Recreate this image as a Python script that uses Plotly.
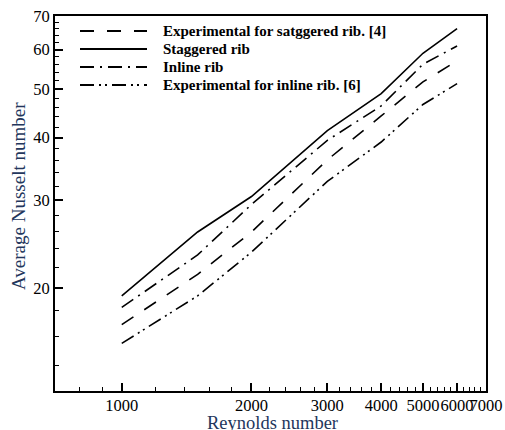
import numpy as np
import plotly.graph_objects as go

# Reynolds numbers and average Nusselt numbers for each case
reynolds = [1000, 1500, 2000, 3000, 4000, 5000, 6000]
nu_exp_staggered = [16.9, 21.3, 25.9, 36.1, 44.2, 51.7, 57.0]
nu_staggered = [19.3, 25.9, 30.5, 41.3, 49.0, 59.0, 66.1]
nu_inline = [18.3, 23.3, 29.4, 39.5, 46.3, 56.1, 61.0]
nu_exp_inline = [15.5, 19.3, 23.6, 32.7, 39.2, 46.6, 51.3]

series_names = [
    "Experimental for satggered rib. [4]",
    "Staggered rib",
    "Inline rib",
    "Experimental for inline rib. [6]",
]
series_values = [nu_exp_staggered, nu_staggered, nu_inline, nu_exp_inline]
dash_styles = ["14px,13px", "solid", "14px,6px,2px,6px", "14px,5px,2px,4px,2px,5px"]

x_major = [1000, 2000, 3000, 4000, 5000, 6000, 7000]
x_minor = [800, 900] + [v for v in range(1200, 7000, 200) if v % 1000 != 0]
y_major = [20, 30, 40, 50, 60, 70]
y_minor = [v for v in range(14, 70, 2) if v % 10 != 0]

W, H = 505, 430
ML, MR, MT, MB = 55, 19, 16, 39
PW, PH = W - ML - MR, H - MT - MB

FONT = "Liberation Serif, Times New Roman, serif"
TITLE_COLOR = "#23365c"


def px_x(p):
    return (p - ML) / PW


def px_y(p):
    return (H - MB - p) / PH


fig = go.Figure()
for name, vals, dash in zip(series_names, series_values, dash_styles):
    fig.add_trace(go.Scatter(
        x=reynolds, y=vals, mode="lines", name=name, showlegend=False,
        line=dict(color="black", width=1.6, dash=dash),
    ))

# hand-built legend in the upper left of the plot area
shapes = []
annotations = []
row_y = [31, 49, 67, 85]
for name, dash, ry in zip(series_names, dash_styles, row_y):
    shapes.append(dict(
        type="line", xref="paper", yref="paper",
        x0=px_x(80), x1=px_x(147), y0=px_y(ry), y1=px_y(ry),
        line=dict(color="black", width=1.8, dash=dash),
    ))
    annotations.append(dict(
        xref="paper", yref="paper", x=px_x(161), y=px_y(ry),
        xanchor="left", yanchor="middle", showarrow=False,
        text="<b>" + name + "</b>",
        font=dict(family=FONT, size=15, color="black"),
    ))

# axis titles
annotations.append(dict(
    xref="paper", yref="paper", x=px_x(272), y=px_y(423),
    xanchor="center", yanchor="middle", showarrow=False,
    text="Reynolds number", font=dict(family=FONT, size=18.5, color=TITLE_COLOR),
))
annotations.append(dict(
    xref="paper", yref="paper", x=px_x(18), y=px_y(196),
    xanchor="center", yanchor="middle", showarrow=False, textangle=-90,
    text="Average Nusselt number", font=dict(family=FONT, size=19, color=TITLE_COLOR),
))

axis_common = dict(
    type="log", showgrid=False, zeroline=False,
    showline=True, linecolor="black", linewidth=2, mirror=True,
    ticks="inside", ticklen=8, tickwidth=2, tickcolor="black",
    tickangle=0,
    tickfont=dict(family=FONT, size=16.5, color="black"),
)

fig.update_layout(
    width=W, height=H,
    margin=dict(l=ML, r=MR, t=MT, b=MB, autoexpand=False),
    paper_bgcolor="white", plot_bgcolor="white",
    shapes=shapes, annotations=annotations,
    xaxis=dict(
        range=[np.log10(700), np.log10(7003)],
        tickmode="array", tickvals=x_major, ticktext=[str(v) for v in x_major],
        ticklabelstandoff=-2,
        minor=dict(tickmode="array", tickvals=x_minor, ticks="inside",
                   ticklen=4, tickwidth=1, tickcolor="black"),
        **axis_common,
    ),
    yaxis=dict(
        range=[np.log10(12.45), np.log10(70.05)],
        tickmode="array", tickvals=y_major, ticktext=[str(v) for v in y_major],
        minor=dict(tickmode="array", tickvals=y_minor, ticks="inside",
                   ticklen=4, tickwidth=1, tickcolor="black"),
        **axis_common,
    ),
)

fig.write_html("out.html")
